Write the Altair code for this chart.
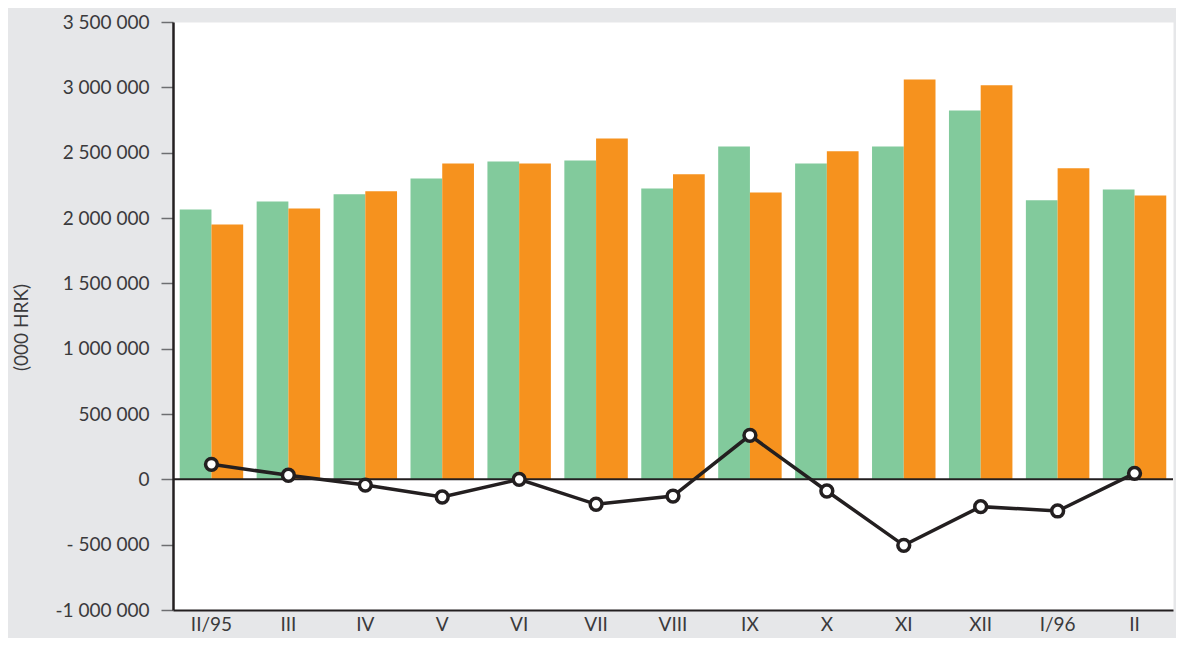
import altair as alt
import pandas as pd

months = ["II/95", "III", "IV", "V", "VI", "VII", "VIII", "IX", "X", "XI", "XII", "I/96", "II"]
series_names = ["Serija 1", "Serija 2"]
green_vals = [2066000, 2127000, 2181000, 2303000, 2433000, 2441000, 2226000, 2548000, 2418000, 2548000, 2823000, 2135000, 2219000]
orange_vals = [1951000, 2073000, 2204000, 2418000, 2418000, 2609000, 2334000, 2196000, 2510000, 3060000, 3015000, 2380000, 2173000]
balance_vals = [115000, 31000, -44000, -135000, 0, -191000, -128000, 337000, -89000, -505000, -209000, -242000, 46000]
y_ticks = [-1000000, -500000, 0, 500000, 1000000, 1500000, 2000000, 2500000, 3000000, 3500000]
y_tick_labels = ["-1 000 000", "- 500 000", "0", "500 000", "1 000 000", "1 500 000",
                 "2 000 000", "2 500 000", "3 000 000", "3 500 000"]

bars_df = pd.DataFrame({
    "month": months * 2,
    "series": [series_names[0]] * len(months) + [series_names[1]] * len(months),
    "value": green_vals + orange_vals,
})
line_df = pd.DataFrame({"month": months, "value": balance_vals})
zero_df = pd.DataFrame({"value": [0]})

FONT = "Lato"
TEXT = "#3a3a3c"
BLACK = "#231f20"

label_expr = "[" + ",".join("'" + s + "'" for s in y_tick_labels) + "][round((datum.value + 1000000) / 500000)]"

x_enc = alt.X(
    "month:N", sort=months,
    scale=alt.Scale(paddingInner=0.175, paddingOuter=0.0875),
    axis=alt.Axis(title=None, labelAngle=0, ticks=False, domain=True, domainColor=BLACK,
                  domainWidth=2, labelFont=FONT, labelFontSize=19, labelColor=TEXT,
                  labelPadding=5),
)
y_enc = alt.Y(
    "value:Q",
    scale=alt.Scale(domain=[-1000000, 3500000], nice=False, zero=False),
    axis=alt.Axis(values=y_ticks, labelExpr=label_expr, grid=False, tickSize=12,
                  tickColor="#6d6e71", tickWidth=1.5, domainColor=BLACK, domainWidth=2.5,
                  labelPadding=12, labelFont=FONT, labelFontSize=19, labelColor=TEXT,
                  title="(000 HRK)", titleFont=FONT, titleFontSize=19, titleFontWeight="normal",
                  titleColor=TEXT, titleAngle=270, titleX=-152, titleY=305,
                  titleAlign="center", titleBaseline="middle"),
)

bars = alt.Chart(bars_df).mark_bar().encode(
    x=x_enc,
    xOffset=alt.XOffset("series:N", sort=series_names,
                        scale=alt.Scale(paddingInner=0, paddingOuter=0)),
    y=y_enc,
    color=alt.Color("series:N", sort=series_names,
                    scale=alt.Scale(domain=series_names, range=["#82ca9c", "#f6921e"]),
                    legend=None),
)

zero_rule = alt.Chart(zero_df).mark_rule(color=BLACK, strokeWidth=2).encode(y=y_enc)

line = alt.Chart(line_df).mark_line(
    color=BLACK, strokeWidth=3.5,
    point=alt.OverlayMarkDef(filled=True, fill="white", stroke=BLACK, strokeWidth=3.5, size=140),
).encode(x=x_enc, y=y_enc)

chart = alt.layer(bars, zero_rule, line).properties(
    width=1000, height=588,
    background="#e6e7e9",
    padding={"left": 165, "top": 14, "right": 3, "bottom": 28},
    autosize=alt.AutoSizeParams(type="none"),
).configure_view(fill="white", stroke="transparent")

chart.save("out.html", embed_options={"renderer": "svg", "actions": False})
